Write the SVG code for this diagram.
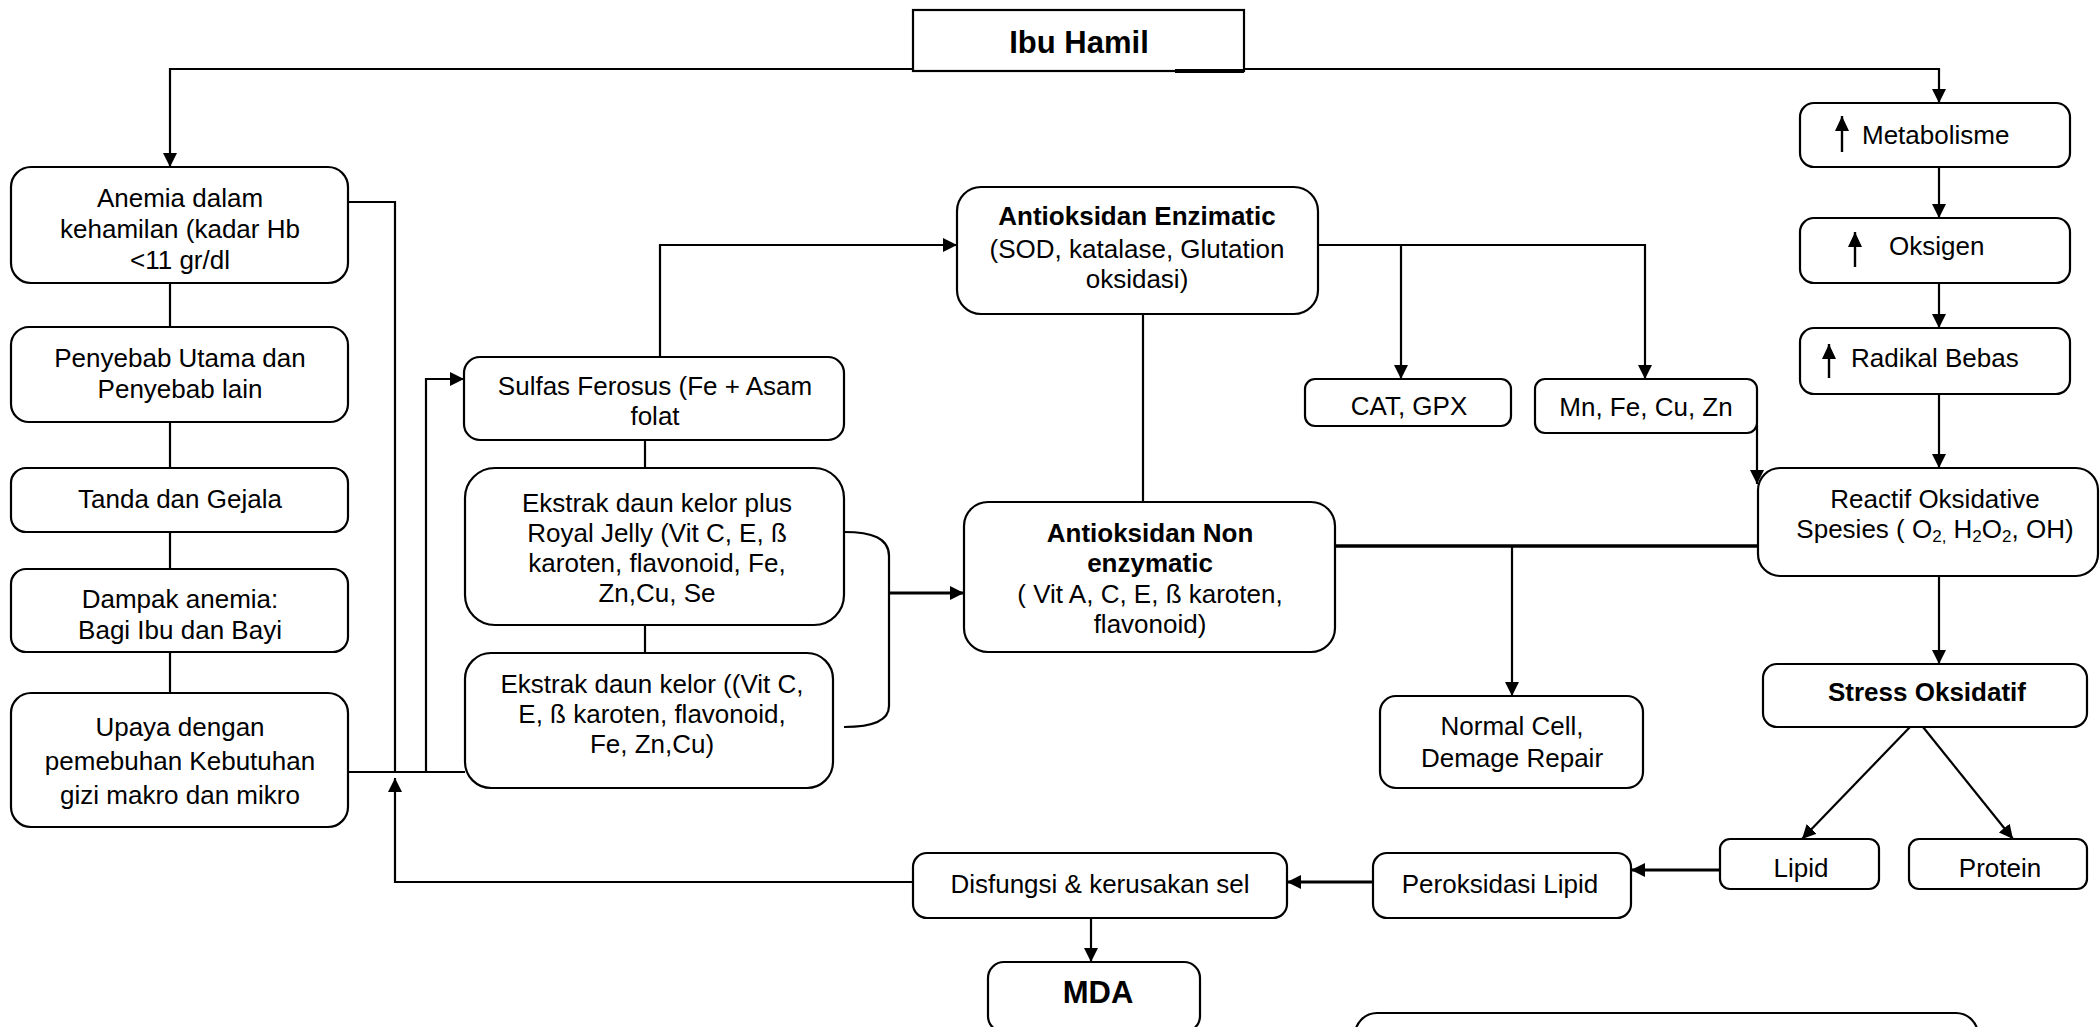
<svg xmlns="http://www.w3.org/2000/svg" width="2100" height="1027" viewBox="0 0 2100 1027">
<style>
.box{fill:#fff;stroke:#000;stroke-width:2.2}
.t{font-family:"Liberation Sans",Arial,sans-serif;font-size:26px;fill:#000;text-anchor:middle}
.b{font-weight:bold}
.s{text-anchor:start}
.c{fill:none;stroke:#000;stroke-width:2.2}
.a{marker-end:url(#ah)}
.sub{font-size:17px}
.ua{stroke:#000;stroke-width:2.4;marker-end:url(#up)}
</style>
<defs>
<marker id="ah" viewBox="0 0 14 14" refX="14" refY="7" markerWidth="14" markerHeight="14" markerUnits="userSpaceOnUse" orient="auto">
<path d="M0,0 L14,7 L0,14 z" fill="#000"/>
</marker>
<marker id="up" viewBox="0 0 15 14" refX="15" refY="7" markerWidth="15" markerHeight="14" markerUnits="userSpaceOnUse" orient="auto">
<path d="M0,0 L15,7 L0,14 z" fill="#000"/>
</marker>
</defs>

<g id="connectors">
<path class="c a" d="M913,69 H170 V167"/>
<path class="c a" d="M1244,69 H1939 V103"/>
<path class="c a" d="M1939,167 V218"/>
<path class="c a" d="M1939,283 V328"/>
<path class="c a" d="M1939,394 V468"/>
<path class="c a" d="M1939,576 V664"/>
<path class="c a" d="M1910,727 L1802,839"/>
<path class="c a" d="M1923,727 L2013,839"/>
<path class="c a" d="M1720,870 H1631" style="stroke-width:3"/>
<path class="c a" d="M1373,882 H1287" style="stroke-width:3"/>
<path class="c a" d="M1091,918 V962"/>
<path class="c a" d="M913,882 H395 V778"/>
<path class="c" d="M170,283 V327 M170,422 V468 M170,532 V569 M170,652 V693"/>
<path class="c" d="M348,202 H395 V772"/>
<path class="c" d="M348,772 H465"/>
<path class="c a" d="M426,772 V379 H464"/>
<path class="c" d="M645,440 V468 M645,625 V653"/>
<path class="c a" d="M660,357 V245 H957"/>
<path class="c" d="M1143,314 V502"/>
<path class="c a" d="M1318,245 H1645 V379"/>
<path class="c a" d="M1401,245 V379"/>
<path class="c a" d="M1757,425 V484"/>
<path class="c" d="M844,532 C872,532 889,538 889,556 V706 C889,721 872,727 844,727"/>
<path class="c a" d="M889,593 H964" style="stroke-width:3"/>
<path class="c" d="M1335,546 H1774" style="stroke-width:3.5"/>
<path class="c a" d="M1512,546 V696"/>
</g>

<g id="ibu-hamil">
<rect class="box" x="913" y="10" width="331" height="61"/>
<line x1="1175" y1="71" x2="1244" y2="71" stroke="#000" stroke-width="4"/>
<text class="t b" x="1079" y="53" style="font-size:31px">Ibu Hamil</text>
</g>

<g id="anemia">
<rect class="box" x="11" y="167" width="337" height="116" rx="20"/>
<text class="t" x="180" y="207">Anemia dalam</text>
<text class="t" x="180" y="238">kehamilan (kadar Hb</text>
<text class="t" x="180" y="269">&lt;11 gr/dl</text>
</g>

<g id="penyebab">
<rect class="box" x="11" y="327" width="337" height="95" rx="18"/>
<text class="t" x="180" y="367">Penyebab Utama dan</text>
<text class="t" x="180" y="398">Penyebab lain</text>
</g>

<g id="tanda">
<rect class="box" x="11" y="468" width="337" height="64" rx="15"/>
<text class="t" x="180" y="508">Tanda dan Gejala</text>
</g>

<g id="dampak">
<rect class="box" x="11" y="569" width="337" height="83" rx="15"/>
<text class="t" x="180" y="608">Dampak anemia:</text>
<text class="t" x="180" y="639">Bagi Ibu dan Bayi</text>
</g>

<g id="upaya">
<rect class="box" x="11" y="693" width="337" height="134" rx="20"/>
<text class="t" x="180" y="736">Upaya dengan</text>
<text class="t" x="180" y="770">pemebuhan Kebutuhan</text>
<text class="t" x="180" y="804">gizi makro dan mikro</text>
</g>

<g id="sulfas">
<rect class="box" x="464" y="357" width="380" height="83" rx="16"/>
<text class="t" x="655" y="395">Sulfas Ferosus (Fe + Asam</text>
<text class="t" x="655" y="425">folat</text>
</g>

<g id="ekstrak-plus">
<rect class="box" x="465" y="468" width="379" height="157" rx="30"/>
<text class="t" x="657" y="512">Ekstrak daun kelor plus</text>
<text class="t" x="657" y="542">Royal Jelly (Vit C, E, ß</text>
<text class="t" x="657" y="572">karoten, flavonoid, Fe,</text>
<text class="t" x="657" y="602">Zn,Cu, Se</text>
</g>

<g id="ekstrak">
<rect class="box" x="465" y="653" width="368" height="135" rx="26"/>
<text class="t" x="652" y="693">Ekstrak daun kelor ((Vit C,</text>
<text class="t" x="652" y="723">E, ß karoten, flavonoid,</text>
<text class="t" x="652" y="753">Fe, Zn,Cu)</text>
</g>

<g id="enzimatic">
<rect class="box" x="957" y="187" width="361" height="127" rx="24"/>
<text class="t b" x="1137" y="225">Antioksidan Enzimatic</text>
<text class="t" x="1137" y="258">(SOD, katalase, Glutation</text>
<text class="t" x="1137" y="288">oksidasi)</text>
</g>

<g id="non-enzymatic">
<rect class="box" x="964" y="502" width="371" height="150" rx="24"/>
<text class="t b" x="1150" y="542">Antioksidan Non</text>
<text class="t b" x="1150" y="572">enzymatic</text>
<text class="t" x="1150" y="603">( Vit A, C, E, ß karoten,</text>
<text class="t" x="1150" y="633">flavonoid)</text>
</g>

<g id="cat-gpx">
<rect class="box" x="1305" y="379" width="206" height="47" rx="10"/>
<text class="t" x="1409" y="415">CAT, GPX</text>
</g>

<g id="mineral">
<rect class="box" x="1535" y="379" width="222" height="54" rx="10"/>
<text class="t" x="1646" y="416">Mn, Fe, Cu, Zn</text>
</g>

<g id="normal-cell">
<rect class="box" x="1380" y="696" width="263" height="92" rx="16"/>
<text class="t" x="1512" y="735">Normal Cell,</text>
<text class="t" x="1512" y="767">Demage Repair</text>
</g>

<g id="metabolisme">
<rect class="box" x="1800" y="103" width="270" height="64" rx="14"/>
<line class="ua" x1="1842" y1="152" x2="1842" y2="116"/>
<text class="t s" x="1862" y="144">Metabolisme</text>
</g>

<g id="oksigen">
<rect class="box" x="1800" y="218" width="270" height="65" rx="14"/>
<line class="ua" x1="1855" y1="267" x2="1855" y2="232"/>
<text class="t s" x="1889" y="255">Oksigen</text>
</g>

<g id="radikal">
<rect class="box" x="1800" y="328" width="270" height="66" rx="14"/>
<line class="ua" x1="1829" y1="378" x2="1829" y2="344"/>
<text class="t s" x="1851" y="367">Radikal Bebas</text>
</g>

<g id="reactif">
<rect class="box" x="1758" y="468" width="340" height="108" rx="22"/>
<text class="t" x="1935" y="508">Reactif Oksidative</text>
<text class="t" x="1935" y="538">Spesies ( O<tspan class="sub" dy="4">2,</tspan><tspan dy="-4"> H</tspan><tspan class="sub" dy="4">2</tspan><tspan dy="-4">O</tspan><tspan class="sub" dy="4">2</tspan><tspan dy="-4">, OH)</tspan></text>
</g>

<g id="stress">
<rect class="box" x="1763" y="664" width="324" height="63" rx="14"/>
<text class="t b" x="1927" y="701">Stress Oksidatif</text>
</g>

<g id="lipid">
<rect class="box" x="1720" y="839" width="159" height="50" rx="10"/>
<text class="t" x="1801" y="877">Lipid</text>
</g>

<g id="protein">
<rect class="box" x="1909" y="839" width="178" height="50" rx="10"/>
<text class="t" x="2000" y="877">Protein</text>
</g>

<g id="peroksidasi">
<rect class="box" x="1373" y="853" width="258" height="65" rx="14"/>
<text class="t" x="1500" y="893">Peroksidasi Lipid</text>
</g>

<g id="disfungsi">
<rect class="box" x="913" y="853" width="374" height="65" rx="14"/>
<text class="t" x="1100" y="893">Disfungsi &amp; kerusakan sel</text>
</g>

<g id="mda">
<rect class="box" x="988" y="962" width="212" height="70" rx="16"/>
<text class="t b" x="1098" y="1003" style="font-size:31px">MDA</text>
</g>

<g id="empty-box">
<rect class="box" x="1355" y="1013" width="623" height="60" rx="22"/>
</g>
</svg>
